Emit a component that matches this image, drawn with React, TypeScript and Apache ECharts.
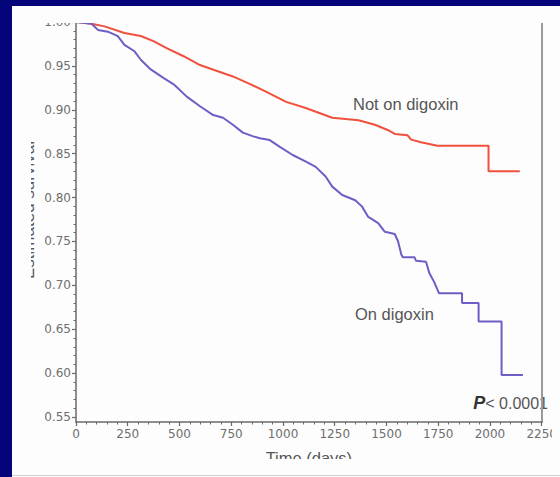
import React, { useEffect, useRef } from "react";
import * as echarts from "echarts";

// Kaplan-Meier survival curves
const daysNotOn = [0, 75, 138, 234, 313, 377, 440, 520, 599, 678, 758, 825, 920, 1015, 1110, 1238, 1365, 1444, 1506, 1540, 1602, 1619, 1667, 1746, 1993, 1993, 2144];
const survNotOn = [1.0, 0.998, 0.995, 0.9875, 0.984, 0.978, 0.970, 0.961, 0.951, 0.9445, 0.938, 0.931, 0.9205, 0.909, 0.902, 0.891, 0.888, 0.883, 0.877, 0.8725, 0.871, 0.866, 0.863, 0.859, 0.859, 0.830, 0.830];

const daysOn = [0, 75, 106, 154, 202, 234, 281, 313, 361, 424, 472, 535, 599, 663, 710, 758, 806, 853, 888, 936, 983, 1047, 1111, 1158, 1206, 1238, 1286, 1349, 1381, 1412, 1460, 1492, 1540, 1556, 1572, 1579, 1635, 1643, 1691, 1707, 1730, 1754, 1865, 1865, 1945, 1945, 2056, 2056, 2159];
const survOn = [1.0, 0.998, 0.991, 0.989, 0.984, 0.974, 0.967, 0.957, 0.946, 0.936, 0.929, 0.915, 0.904, 0.894, 0.891, 0.883, 0.874, 0.870, 0.8675, 0.8655, 0.858, 0.8485, 0.841, 0.835, 0.824, 0.8125, 0.803, 0.797, 0.790, 0.778, 0.771, 0.761, 0.7585, 0.750, 0.735, 0.732, 0.732, 0.728, 0.727, 0.714, 0.704, 0.691, 0.691, 0.680, 0.680, 0.659, 0.659, 0.598, 0.598];

const yTickValues = [0.55, 0.6, 0.65, 0.7, 0.75, 0.8, 0.85, 0.9, 0.95, 1.0];
const yMinorValues = [0.56, 0.57, 0.58, 0.59, 0.61, 0.62, 0.63, 0.64, 0.66, 0.67, 0.68, 0.69, 0.71, 0.72, 0.73, 0.74, 0.76, 0.77, 0.78, 0.79, 0.81, 0.82, 0.83, 0.84, 0.86, 0.87, 0.88, 0.89, 0.91, 0.92, 0.93, 0.94, 0.96, 0.97, 0.98, 0.99];

const seriesNames = ["Not on digoxin", "On digoxin"];
const Y_MIN = 0.5444;
const Y_MAX = 1.0;

export default function App() {
  const ref = useRef<HTMLDivElement>(null);

  useEffect(() => {
    if (!ref.current) return;
    const chart = echarts.init(ref.current, null, { renderer: "svg" });
    const axisColor = "#6a6a6a";
    const labelFont = { color: "#6e6e6e", fontSize: 12, fontFamily: "DejaVu Sans" };
    const gridBox = { left: 76, right: 10, top: 22, bottom: 55 };
    chart.setOption({
      animation: false,
      grid: [gridBox, gridBox],
      xAxis: [
        {
          type: "value",
          gridIndex: 0,
          min: 0,
          max: 2250,
          interval: 250,
          name: "Time (days)",
          nameLocation: "middle",
          nameGap: 27,
          nameTextStyle: { color: "#555", fontSize: 16.5, fontFamily: "Liberation Sans" },
          axisLine: { show: true, lineStyle: { color: axisColor, width: 1.5 } },
          axisTick: { show: true, length: 4, lineStyle: { color: axisColor, width: 1.2 } },
          minorTick: { show: true, splitNumber: 5, length: 2.5, lineStyle: { color: axisColor, width: 1 } },
          axisLabel: { ...labelFont, margin: 6, formatter: (v: number) => String(v) },
          splitLine: { show: false },
        },
        {
          type: "value",
          gridIndex: 1,
          min: 0,
          max: 2250,
          show: false,
        },
      ],
      yAxis: [
        {
          type: "value",
          gridIndex: 0,
          min: Y_MIN,
          max: Y_MAX,
          position: "left",
          axisLine: { show: true, lineStyle: { color: axisColor, width: 1.5 } },
          axisTick: { show: true, length: 4, customValues: yTickValues, lineStyle: { color: axisColor, width: 1.2 } },
          axisLabel: { ...labelFont, margin: 5, customValues: yTickValues, formatter: (v: number) => v.toFixed(2) },
          splitLine: { show: false },
        },
        {
          type: "value",
          gridIndex: 0,
          min: Y_MIN,
          max: Y_MAX,
          position: "right",
          axisLine: { show: true, lineStyle: { color: "#9a9a9a", width: 2 } },
          axisTick: { show: false },
          axisLabel: { show: false },
          splitLine: { show: false },
        },
        {
          type: "value",
          gridIndex: 1,
          min: Y_MIN,
          max: Y_MAX,
          position: "left",
          axisLine: { show: false },
          axisTick: { show: true, length: 2.5, customValues: yMinorValues, lineStyle: { color: axisColor, width: 1 } },
          axisLabel: { show: false },
          splitLine: { show: false },
        },
      ],
      series: [
        {
          name: seriesNames[0],
          type: "line",
          xAxisIndex: 0,
          yAxisIndex: 0,
          symbol: "none",
          data: daysNotOn.map((d, i) => [d, survNotOn[i]]),
          lineStyle: { color: "#f0503c", width: 2 },
          itemStyle: { color: "#f0503c" },
        },
        {
          name: seriesNames[1],
          type: "line",
          xAxisIndex: 0,
          yAxisIndex: 0,
          symbol: "none",
          data: daysOn.map((d, i) => [d, survOn[i]]),
          lineStyle: { color: "#6d5ec6", width: 2 },
          itemStyle: { color: "#6d5ec6" },
        },
      ],
      graphic: [
        {
          type: "text",
          x: 353,
          y: 104,
          style: { text: seriesNames[0], fill: "#555", font: '16.5px "Liberation Sans"', align: "left", verticalAlign: "middle" },
        },
        {
          type: "text",
          x: 355,
          y: 314,
          style: { text: seriesNames[1], fill: "#555", font: '16.5px "Liberation Sans"', align: "left", verticalAlign: "middle" },
        },
        {
          type: "text",
          x: 548,
          y: 403,
          style: {
            text: "{p|P}{r|< 0.0001}",
            align: "right",
            verticalAlign: "middle",
            rich: {
              p: { fill: "#333", fontSize: 18, fontStyle: "italic", fontWeight: "bold", fontFamily: "Liberation Sans" },
              r: { fill: "#555", fontSize: 16, fontFamily: "Liberation Sans" },
            },
          },
        },
        {
          type: "text",
          x: 37,
          y: 210,
          rotation: Math.PI / 2,
          style: { text: "Estimated survival", fill: "#555", font: '17px "Liberation Sans"', align: "center", verticalAlign: "bottom" },
        },
      ],
    });
    return () => chart.dispose();
  }, []);

  return (
    <div style={{ position: "fixed", left: 0, top: 0, width: 560, height: 477, background: "#05057a", overflow: "hidden" }}>
      <div style={{ position: "absolute", left: 12, top: 6, width: 548, height: 471, background: "#fdfdfd" }} />
      <div style={{ position: "absolute", left: 12, top: 475, width: 548, height: 1, background: "#d0d0d0" }} />
      <div
        ref={ref}
        style={{ position: "absolute", left: 0, top: 0, width: 560, height: 477, clipPath: "inset(23px 8px 18px 31px)" }}
      />
    </div>
  );
}
